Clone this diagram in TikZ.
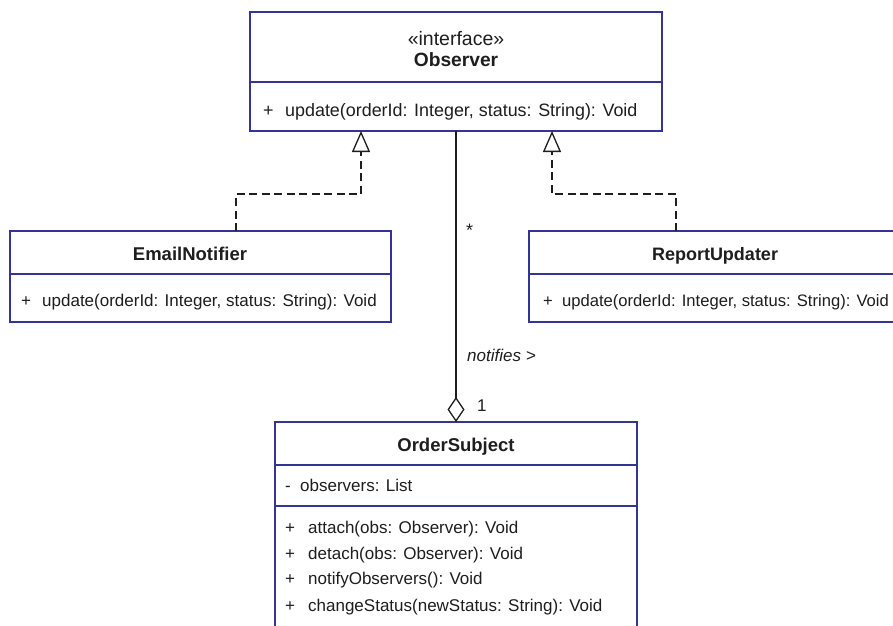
\documentclass[tikz,border=0pt]{standalone}
\usepackage{fontspec}
\setmainfont{Liberation Sans}
\usetikzlibrary{arrows.meta}
\definecolor{umlblue}{RGB}{52,52,150}
\definecolor{ink}{RGB}{30,30,30}
% visibility column: marker followed by a fixed gap
\newcommand\vis[2][21pt]{\makebox[#1][l]{#2}}
\tikzset{
  umlbox/.style={draw=umlblue, line width=1.3pt, fill=white, inner sep=0pt, outer sep=0pt, anchor=north west},
  umltxt/.style={inner sep=0pt, text=ink, font=\fontsize{17}{20}\selectfont},
  clsname/.style={umltxt, font=\fontsize{18}{22}\selectfont\bfseries, anchor=base},
  member/.style={umltxt, anchor=base west},
  umllink/.style={draw=ink, line width=1.3pt},
  realize/.style={umllink, dash pattern=on 8pt off 4.5pt, -{Triangle[open, length=21pt, width=18pt]}},
  aggregate/.style={umllink, -{Diamond[open, length=25pt, width=17pt]}},
  endlabel/.style={umltxt, anchor=base west}
}
\begin{document}
\begin{tikzpicture}[x=1pt, y=-1pt]
\path[use as bounding box] (0,0) rectangle (893,625);
\clip (0,0) rectangle (893,625);
\fill[white] (0,0) rectangle (893,625);

% Observer interface
\node[umlbox, minimum width=412pt, minimum height=70pt] (obsHead) at (250,12) {};
\node[umlbox, minimum width=412pt, minimum height=49pt] (obsBody) at (obsHead.south west) {};
\node[umltxt, anchor=base, font=\fontsize{19.5}{22}\selectfont] (obsStereo) at (456,45) {«interface»};
\node[clsname, font=\fontsize{19.2}{22}\selectfont\bfseries] (obsName) at (456,66.5) {Observer};
\node[member, font=\fontsize{17.9}{20}\selectfont] (obsOp) at (263,116.5) {\vis[22pt]{+}update(orderId: Integer, status: String): Void};

% EmailNotifier
\node[umlbox, minimum width=381pt, minimum height=43pt] (emailHead) at (10,231) {};
\node[umlbox, minimum width=381pt, minimum height=48pt] (emailBody) at (emailHead.south west) {};
\node[clsname, font=\fontsize{18.5}{22}\selectfont\bfseries] (emailName) at (190,260.5) {EmailNotifier};
\node[member] (emailOp) at (21,306) {\vis{+}update(orderId: Integer, status: String): Void};

% ReportUpdater
\node[umlbox, minimum width=372pt, minimum height=43pt] (rptHead) at (529,231) {};
\node[umlbox, minimum width=372pt, minimum height=48pt] (rptBody) at (rptHead.south west) {};
\node[clsname] (rptName) at (715,260.5) {ReportUpdater};
\node[member, font=\fontsize{16.6}{20}\selectfont] (rptOp) at (543,306) {\vis[19pt]{+}update(orderId: Integer, status: String): Void};

% OrderSubject
\node[umlbox, minimum width=362pt, minimum height=43pt] (orderHead) at (275,422) {};
\node[umlbox, minimum width=362pt, minimum height=41pt] (orderAttr) at (orderHead.south west) {};
\node[umlbox, minimum width=362pt, minimum height=140pt] (orderOps) at (orderAttr.south west) {};
\node[clsname, font=\fontsize{18.5}{22}\selectfont\bfseries] (orderName) at (456,451.5) {OrderSubject};
\node[member] (orderField) at (285,491) {\vis[15pt]{-}observers: List};
\node[member] (opAttach) at (285,533) {\vis[23pt]{+}attach(obs: Observer): Void};
\node[member] (opDetach) at (285,559) {\vis[23pt]{+}detach(obs: Observer): Void};
\node[member] (opNotify) at (285,584) {\vis[23pt]{+}notifyObservers(): Void};
\node[member] (opChange) at (285,611) {\vis[23pt]{+}changeStatus(newStatus: String): Void};

% realizations
\draw[realize] ([xshift=35.5pt]emailHead.north) -- ++(0,-37) -| ([xshift=-95pt]obsBody.south);
\draw[realize] ([xshift=-39pt]rptHead.north) -- ++(0,-37) -| ([xshift=96pt]obsBody.south);

% aggregation
\draw[aggregate] (obsBody.south) -- (orderHead.north);
\node[endlabel, font=\fontsize{18}{20}\selectfont] (multMany) at (466,236.5) {*};
\node[endlabel, font=\fontsize{17}{20}\selectfont\itshape] (assocName) at (467,361) {notifies >};
\node[endlabel] (multOne) at (477,411) {1};
\end{tikzpicture}
\end{document}
